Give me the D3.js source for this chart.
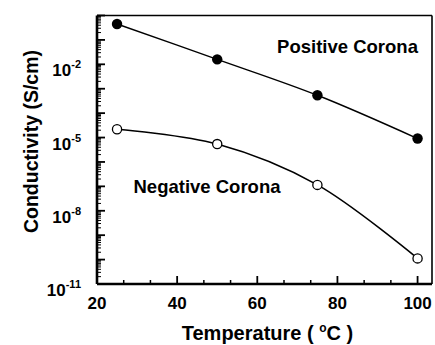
<!DOCTYPE html>
<html lang="en">
  <head>
    <meta charset="utf-8">
    <title>Conductivity vs Temperature</title>
    <script src="https://cdnjs.cloudflare.com/ajax/libs/d3/7.8.5/d3.min.js"></script>
    <style>
      body { margin: 0; background: #fff; }
      text { font-family: "Liberation Sans", Arial, sans-serif; font-weight: bold; fill: #000; }
    </style>
  </head>
  <body>
    <div id="graph"></div>
    <script type="text/javascript">
    // data
    const temps = [25, 50, 75, 100];
    const positive = [4.5e-1, 1.6e-2, 5.4e-4, 9.1e-6];
    const negative = [2.2e-5, 5.4e-6, 1.15e-7, 1.12e-10];
    const xTicks = [20, 40, 60, 80, 100];
    const yTickExp = [-11, -8, -5, -2];

    const w = 435, h = 345;
    const padL = 97, padR = 432, padT = 15.5, padB = 284;

    const svg = d3.select("#graph").append("svg")
      .attr("width", w).attr("height", h);

    const xScale = d3.scaleLinear().domain([20, 103.6]).range([padL, padR]);
    const yScale = d3.scaleLog().domain([1e-11, 1]).range([padB, padT]);

    // x ticks (inward)
    const xMinor = d3.range(1, 12).filter(k => k % 3 != 0).map(k => 20 + k * 20 / 3);
    svg.append("g").selectAll("line").data(xMinor).enter().append("line")
      .attr("x1", d => xScale(d)).attr("x2", d => xScale(d))
      .attr("y1", padB).attr("y2", padB - 4)
      .attr("stroke", "#000").attr("stroke-width", 1.5);
    svg.append("g").selectAll("line").data(xTicks).enter().append("line")
      .attr("x1", d => xScale(d)).attr("x2", d => xScale(d))
      .attr("y1", padB).attr("y2", padB - 8)
      .attr("stroke", "#000").attr("stroke-width", 1.8);
    svg.append("g").selectAll("text").data(xTicks).enter().append("text")
      .attr("x", d => xScale(d)).attr("y", 309)
      .attr("text-anchor", "middle").style("font-size", "17px")
      .text(d => d);

    // y ticks (inward): decade ticks plus log minors
    const decades = d3.range(-11, 1);
    const yMinor = [];
    decades.slice(0, -1).forEach(e => {
      for (let k = 2; k <= 9; k += 1) yMinor.push(k * Math.pow(10, e));
    });
    svg.append("g").selectAll("line").data(yMinor).enter().append("line")
      .attr("x1", padL).attr("x2", padL + 4)
      .attr("y1", d => yScale(d)).attr("y2", d => yScale(d))
      .attr("stroke", "#000").attr("stroke-width", 1);
    svg.append("g").selectAll("line").data(decades).enter().append("line")
      .attr("x1", padL).attr("x2", padL + 8)
      .attr("y1", d => yScale(Math.pow(10, d))).attr("y2", d => yScale(Math.pow(10, d)))
      .attr("stroke", "#000").attr("stroke-width", 1.8);
    const yl = svg.append("g").selectAll("text").data(yTickExp).enter().append("text")
      .attr("x", 81).attr("y", d => yScale(Math.pow(10, d)) + 12)
      .attr("text-anchor", "end").style("font-size", "17px");
    yl.append("tspan").text("10");
    yl.append("tspan").attr("dy", -8).style("font-size", "11px").text(d => d);

    // frame
    svg.append("line").attr("x1", padL).attr("x2", padR).attr("y1", padT).attr("y2", padT)
      .attr("stroke", "#000").attr("stroke-width", 1.6);
    svg.append("line").attr("x1", padR).attr("x2", padR).attr("y1", padT).attr("y2", padB)
      .attr("stroke", "#000").attr("stroke-width", 1.6);
    svg.append("line").attr("x1", padL).attr("x2", padR).attr("y1", padB).attr("y2", padB)
      .attr("stroke", "#000").attr("stroke-width", 2.6);
    svg.append("line").attr("x1", padL).attr("x2", padL).attr("y1", padT).attr("y2", padB)
      .attr("stroke", "#000").attr("stroke-width", 2.6);

    // lines
    const line = d3.line().x(d => xScale(d[0])).y(d => yScale(d[1])).curve(d3.curveCatmullRom);
    svg.append("path").datum(d3.zip(temps, positive)).attr("d", line)
      .attr("fill", "none").attr("stroke", "#000").attr("stroke-width", 1.4);
    svg.append("path").datum(d3.zip(temps, negative)).attr("d", line)
      .attr("fill", "none").attr("stroke", "#000").attr("stroke-width", 1.6);

    // markers
    svg.selectAll(".pos").data(d3.zip(temps, positive)).enter().append("circle")
      .attr("class", "pos")
      .attr("cx", d => xScale(d[0])).attr("cy", d => yScale(d[1])).attr("r", 5.2)
      .attr("fill", "#000");
    svg.selectAll(".neg").data(d3.zip(temps, negative)).enter().append("circle")
      .attr("class", "neg")
      .attr("cx", d => xScale(d[0])).attr("cy", d => yScale(d[1])).attr("r", 4.6)
      .attr("fill", "#fff").attr("stroke", "#000").attr("stroke-width", 1.3);

    // series labels
    svg.append("text").attr("x", 347.5).attr("y", 53).attr("text-anchor", "middle")
      .style("font-size", "18.5px").text("Positive Corona");
    svg.append("text").attr("x", 207).attr("y", 193).attr("text-anchor", "middle")
      .style("font-size", "18.5px").text("Negative Corona");

    // axis titles
    svg.append("text").attr("transform", "translate(38,141.5) rotate(-90)")
      .attr("text-anchor", "middle").style("font-size", "19.5px")
      .text("Conductivity (S/cm)");
    const xt = svg.append("text").attr("x", 267.5).attr("y", 340)
      .attr("text-anchor", "middle").style("font-size", "20px");
    xt.append("tspan").text("Temperature ( ");
    xt.append("tspan").attr("dy", -8).style("font-size", "12px").text("o");
    xt.append("tspan").attr("dy", 8).text("C )");
    </script>
  </body>
</html>
